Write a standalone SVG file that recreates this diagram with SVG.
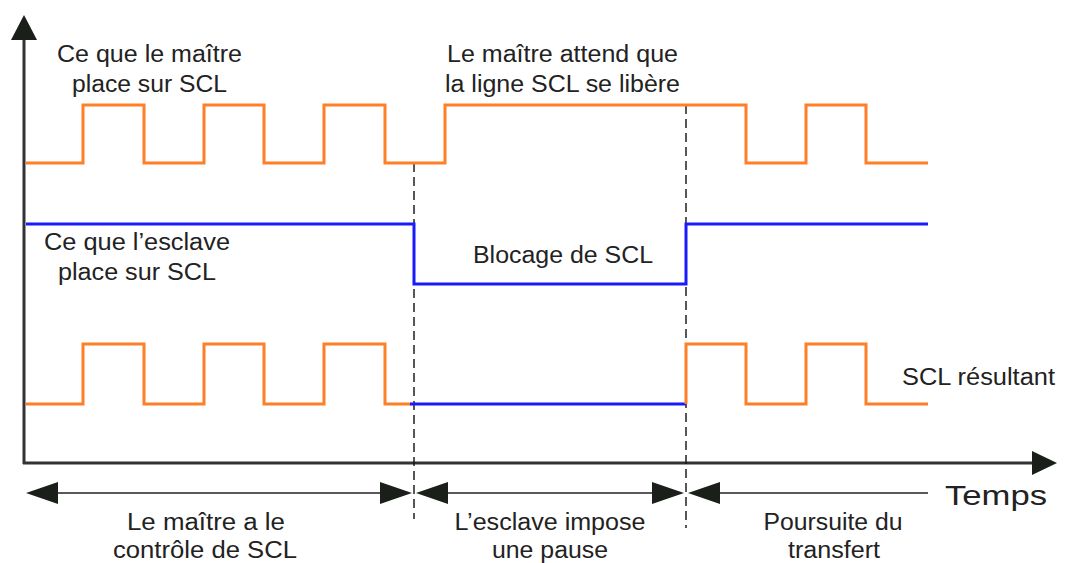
<svg xmlns="http://www.w3.org/2000/svg" width="1069" height="563" viewBox="0 0 1069 563">
<defs>
<style>
.t{font-family:"Liberation Sans",Arial,sans-serif;font-size:23px;fill:#222}
.mid{text-anchor:middle}
.org{fill:none;stroke:#ff7f27;stroke-width:3;stroke-linejoin:miter}
.blu{fill:none;stroke:#1a1aff;stroke-width:3}
.axis{fill:none;stroke:#333;stroke-width:3}
.dim{fill:none;stroke:#222;stroke-width:1.5}
.dash{fill:none;stroke:#111;stroke-width:1.4;stroke-dasharray:9 5}
.ah{fill:#1a1f1a}
</style>
</defs>
<rect width="1069" height="563" fill="#fff"/>
<g id="axes">
<line class="axis" x1="24" y1="464" x2="24" y2="36"/>
<polygon class="ah" points="24,15 11,40 37,40"/>
<line class="axis" x1="23" y1="463" x2="1036" y2="463"/>
<polygon class="ah" points="1057,463 1032,451 1032,475"/>
</g>
<g id="connectors">
<line class="dash" x1="414" y1="163" x2="414" y2="519"/>
<line class="dash" x1="686" y1="105" x2="686" y2="528"/>
<line class="dim" x1="50" y1="493" x2="390" y2="493"/>
<polygon class="ah" points="26,493 58,482 58,504"/>
<polygon class="ah" points="412,493 380,482 380,504"/>
<line class="dim" x1="440" y1="493" x2="660" y2="493"/>
<polygon class="ah" points="416,493 448,482 448,504"/>
<polygon class="ah" points="684,493 652,482 652,504"/>
<line class="dim" x1="710" y1="493" x2="928" y2="493"/>
<polygon class="ah" points="688,493 720,482 720,504"/>
</g>
<g id="master">
<polyline class="org" points="26,163 83,163 83,105 144,105 144,163 204,163 204,105 264,105 264,163 324,163 324,105 385,105 385,163 445,163 445,105 746,105 746,163 806,163 806,105 866,105 866,163 928,163"/>
<text class="t mid" x="149.5" y="62" textLength="185" lengthAdjust="spacingAndGlyphs">Ce que le maître</text>
<text class="t mid" x="149.5" y="92" textLength="155" lengthAdjust="spacingAndGlyphs">place sur SCL</text>
<text class="t mid" x="562.5" y="62" textLength="231" lengthAdjust="spacingAndGlyphs">Le maître attend que</text>
<text class="t mid" x="562.5" y="92" textLength="235" lengthAdjust="spacingAndGlyphs">la ligne SCL se libère</text>
</g>
<g id="slave">
<polyline class="blu" points="26,224 414,224 414,284 686,284 686,224 928,224"/>
<text class="t" x="44" y="250" textLength="186" lengthAdjust="spacingAndGlyphs">Ce que l’esclave</text>
<text class="t" x="58" y="280" textLength="158" lengthAdjust="spacingAndGlyphs">place sur SCL</text>
<text class="t" x="473" y="263" textLength="180" lengthAdjust="spacingAndGlyphs">Blocage de SCL</text>
</g>
<g id="result">
<polyline class="org" points="26,404 83,404 83,344 144,344 144,404 204,404 204,344 264,344 264,404 324,404 324,344 385,344 385,404 411,404"/>
<polyline class="blu" points="410,404 686,404"/>
<polyline class="org" points="686,404 686,344 746,344 746,404 806,404 806,344 866,344 866,404 928,404"/>
<text class="t" x="902" y="385" textLength="153" lengthAdjust="spacingAndGlyphs">SCL résultant</text>
</g>
<g id="labels">
<text class="t" x="945" y="505" style="font-size:28px" textLength="102" lengthAdjust="spacingAndGlyphs">Temps</text>
<text class="t mid" x="206" y="530" textLength="158" lengthAdjust="spacingAndGlyphs">Le maître a le</text>
<text class="t mid" x="205" y="558" textLength="184" lengthAdjust="spacingAndGlyphs">contrôle de SCL</text>
<text class="t mid" x="550" y="530" textLength="191" lengthAdjust="spacingAndGlyphs">L’esclave impose</text>
<text class="t mid" x="550" y="558" textLength="116" lengthAdjust="spacingAndGlyphs">une pause</text>
<text class="t mid" x="833" y="530" textLength="139" lengthAdjust="spacingAndGlyphs">Poursuite du</text>
<text class="t mid" x="834" y="558" textLength="92" lengthAdjust="spacingAndGlyphs">transfert</text>
</g>
</svg>
